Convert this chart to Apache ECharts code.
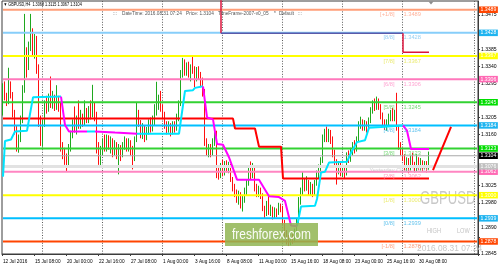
<!DOCTYPE html>
<html><head><meta charset="utf-8">
<script src="https://cdn.jsdelivr.net/npm/echarts@6/dist/echarts.min.js"></script>
<style>html,body{margin:0;padding:0;background:#fff;overflow:hidden}#c{width:500px;height:269px}</style>
</head><body><div id="c"></div>
<script>
// ---------------- DATA (prices in pips: 13104 = 1.3104) ----------------
const symbol = 'GBPUSD';
const timeframe = 'H4';
const firstBarUTC = [2016, 6, 12, 16]; // 12 Jul 2016 16:00
const futureBars = 24;
const opens = [13220,13285,13262,13245,13290,13265,13215,13178,13130,13150,13200,13280,13370,13340,13395,13420,13375,13410,13330,13190,13165,13190,13240,13225,13255,13240,13258,13232,13250,13235,13130,13110,13095,13085,13125,13160,13190,13175,13200,13185,13210,13195,13215,13200,13225,13215,13230,13210,13130,13100,13115,13140,13125,13150,13130,13145,13115,13135,13110,13125,13105,13130,13145,13125,13140,13120,13100,13145,13215,13190,13160,13175,13155,13170,13190,13175,13195,13220,13235,13245,13230,13210,13185,13170,13180,13165,13185,13175,13205,13240,13320,13345,13325,13340,13320,13335,13330,13310,13330,13315,13300,13270,13140,13115,13125,13110,13140,13160,13060,13050,13075,13060,13080,13070,13078,13040,13020,13005,12990,13000,12980,12990,13010,13030,13065,13050,13070,13020,13005,13015,13000,12965,12950,12965,12955,12962,12948,12958,12952,12972,12968,12930,12900,12885,12880,12890,12882,12905,12930,12985,13010,13035,13020,13035,13010,13025,13005,13030,13055,13070,13090,13150,13165,13150,13165,13150,13110,13085,13070,13080,13062,13070,13058,13105,13095,13115,13130,13120,13145,13185,13195,13180,13190,13178,13195,13225,13240,13230,13248,13235,13210,13190,13180,13192,13200,13212,13205,13215,13180,13130,13115,13100,13075,13090,13070,13095,13080,13070,13095,13072,13088,13075,13082,13068];
const highs = [13295,13300,13270,13336,13300,13272,13225,13185,13160,13210,13290,13478,13390,13405,13478,13440,13425,13420,13345,13210,13200,13250,13262,13268,13313,13275,13265,13290,13262,13245,13140,13125,13110,13135,13170,13200,13234,13210,13250,13225,13215,13250,13230,13235,13250,13291,13245,13220,13140,13130,13150,13160,13160,13158,13155,13150,13145,13140,13135,13132,13140,13155,13150,13150,13145,13130,13155,13244,13225,13198,13190,13185,13180,13200,13205,13210,13240,13299,13265,13275,13240,13220,13195,13195,13190,13195,13195,13215,13250,13330,13362,13358,13350,13352,13345,13365,13340,13338,13340,13325,13310,13280,13150,13135,13135,13150,13175,13170,13075,13085,13094,13090,13092,13088,13082,13048,13030,13015,13012,13008,13000,13020,13040,13075,13089,13085,13075,13030,13025,13020,13005,12972,12985,12998,12975,12970,12968,12965,12980,12978,12972,12935,12908,12895,12900,12898,12912,12940,12995,13020,13062,13045,13050,13040,13035,13030,13040,13065,13081,13100,13160,13175,13181,13175,13172,13155,13120,13095,13090,13088,13080,13078,13113,13118,13125,13140,13145,13155,13195,13207,13200,13198,13195,13205,13232,13250,13255,13260,13255,13240,13218,13200,13200,13215,13225,13230,13225,13270,13185,13140,13125,13108,13100,13098,13105,13112,13088,13108,13100,13098,13092,13090,13090,13115];
const lows = [13210,13250,13235,13240,13255,13205,13160,13115,13112,13140,13190,13270,13310,13330,13380,13365,13360,13320,13180,13130,13128,13180,13215,13220,13230,13228,13222,13225,13220,13115,13095,13080,13063,13075,13115,13150,13165,13160,13175,13175,13180,13185,13190,13190,13200,13205,13195,13110,13080,13075,13105,13115,13115,13120,13110,13100,13105,13095,13055,13090,13100,13120,13115,13115,13105,13068,13090,13140,13180,13150,13148,13140,13145,13160,13165,13168,13185,13210,13225,13220,13200,13175,13160,13165,13155,13160,13165,13170,13195,13235,13310,13315,13315,13310,13300,13320,13285,13300,13305,13285,13260,13130,13105,13100,13100,13105,13130,13045,13041,13045,13050,13052,13060,13058,13035,13010,12995,12980,12975,12965,12957,12980,13000,13025,13040,13045,13010,12995,12995,12990,12958,12940,12945,12948,12945,12936,12940,12942,12948,12955,12922,12890,12870,12866,12868,12872,12876,12898,12925,12975,13000,13010,13012,13000,12998,12995,13000,13025,13045,13060,13085,13140,13140,13140,13135,13100,13075,13028,13055,13050,13048,13045,13052,13085,13088,13105,13110,13115,13140,13175,13170,13170,13165,13172,13190,13215,13222,13225,13225,13200,13180,13172,13170,13185,13195,13195,13195,13170,13120,13105,13090,13065,13062,13058,13065,13072,13060,13062,13066,13065,13062,13068,13060,13067];
const closes = [13285,13262,13245,13290,13265,13215,13178,13130,13150,13200,13275,13370,13340,13395,13420,13375,13410,13330,13190,13165,13190,13240,13225,13255,13240,13258,13232,13250,13235,13130,13110,13095,13085,13125,13160,13190,13175,13200,13185,13210,13195,13215,13200,13225,13215,13230,13210,13130,13100,13115,13140,13125,13150,13130,13145,13115,13135,13110,13125,13105,13130,13145,13125,13140,13120,13100,13145,13215,13190,13160,13175,13155,13170,13190,13175,13195,13220,13235,13245,13230,13210,13185,13170,13180,13165,13185,13175,13205,13240,13320,13345,13325,13340,13320,13335,13330,13310,13330,13315,13300,13270,13140,13115,13125,13110,13140,13160,13060,13050,13075,13060,13080,13070,13078,13040,13020,13005,12990,13000,12980,12990,13010,13030,13065,13050,13070,13020,13005,13015,13000,12965,12950,12965,12955,12962,12948,12958,12952,12972,12968,12930,12900,12885,12880,12890,12882,12905,12930,12985,13010,13035,13020,13035,13010,13025,13005,13030,13055,13070,13090,13150,13165,13150,13165,13150,13110,13085,13070,13080,13062,13070,13058,13105,13095,13115,13130,13120,13145,13185,13195,13180,13190,13178,13195,13225,13240,13230,13248,13235,13210,13190,13180,13192,13200,13212,13205,13215,13180,13130,13115,13100,13075,13090,13070,13095,13080,13070,13095,13072,13088,13075,13082,13068,13104];

const xTickLabels = ['12 Jul 2016','15 Jul 08:00','20 Jul 00:00','22 Jul 16:00','27 Jul 08:00','1 Aug 00:00','3 Aug 16:00','8 Aug 08:00','11 Aug 00:00','15 Aug 16:00','18 Aug 08:00','23 Aug 00:00','25 Aug 16:00','30 Aug 08:00'];
const xTickEvery = 16;
const periodSeparators = [20,50,80,110,140,170,200,236];
const yTickValues = [1.2845,1.2890,1.2980,1.3025,1.3160,1.3205,1.3295,1.3340,1.3385,1.3475];

const levelNames  = ['[+1/8]','[8/8]','[7/8]','[6/8]','[5/8]','[4/8]','[3/8]','[2/8]','[1/8]','[0/8]','[-1/8]'];
const levelValues = [1.3489,1.3428,1.3367,1.3306,1.3245,1.3184,1.3123,1.3062,1.3000,1.2939,1.2878];
const currentPrice = 1.3104;
const yesterdayClose = 1.3076;
const dateTimeText = '2016.08.31 07:24';

// indicator lines: [barIndex, pips]
const redStep = [[0,13202],[115,13202],[116,13176],[126,13176],[128,13128],[139,13128],[140,13044],[213,13044]];
const cyanSegments = [
  [[0,13049],[1,13143],[4,13147],[6,13168],[12,13170],[15,13258],[29,13260]],
  [[42,13168],[46,13168]],
  [[67,13162],[88,13162],[91,13275],[95,13277],[96,13283],[100,13287]],
  [[147,12918],[149,12970],[156,12972],[157,12990],[158,12992],[159,13060],[161,13062],[163,13086],[172,13088],[174,13112],[177,13140],[181,13145],[183,13178],[189,13180],[200,13184]]
];
const magentaSegments = [
  [[29,13260],[31,13185],[33,13168],[42,13168]],
  [[46,13168],[56,13165],[67,13162]],
  [[100,13287],[102,13205],[105,13200],[107,13135],[110,13133],[113,13100],[117,13041],[128,13041],[133,12997],[138,12995],[141,12985],[144,12920],[147,12918]],
  [[200,13184],[202,13170],[204,13122],[213,13122]]
];
const projection = [[215,13066],[224,13180]];
const upperCrimsonA = [[109,13530],[109,13427]];
const upperSlate = [[109,13427],[200,13427]];
const upperCrimsonB = [[200,13427],[200,13377],[213,13377]];

// ---------------- STYLES / LAYOUT ----------------
const FONT = 'Liberation Sans, Arial, sans-serif';
const levelStyle = [
  {line:'#FF9E78', w:2, box:'#FF4500', text:'#FF9E80'},
  {line:'#87CEFA', w:2, box:'#1EB4F0', text:'#7CC4F0'},
  {line:'#FFFF00', w:2, box:'#FFFF00', text:'#E6E650'},
  {line:'#FF78BC', w:2, box:'#FF69B4', text:'#FF8CC6'},
  {line:'#32D232', w:2, box:'#00DD00', text:'#55D055'},
  {line:'#00BFFF', w:2, box:'#1EB4F0', text:'#3CB4E8'},
  {line:'#32D232', w:2, box:'#00DD00', text:'#55D055'},
  {line:'#FF86C2', w:2, box:'#FF69B4', text:'#FF80A8'},
  {line:'#FFFF00', w:2, box:'#FFFF00', text:'#E6E650'},
  {line:'#00BFFF', w:2, box:'#1EB4F0', text:'#3CB4E8'},
  {line:'#FF4500', w:2, box:'#FF4500', text:'#FF8A60'}
];
const nameIdx = 196, priceIdx = 200, yCloseIdx = 183, yClosePriceIdx = 204;

// ---------------- BUILD ----------------
const P = v => v / 10000;
const N = opens.length;
const pad = n => String(n).padStart(2, '0');
const categories = [];
for (let t = Date.UTC(...firstBarUTC); categories.length < N + futureBars; t += 4 * 3600e3) {
  const d = new Date(t), wd = d.getUTCDay();
  if (wd === 0 || wd === 6) continue;
  categories.push(d.getUTCFullYear() + '.' + pad(d.getUTCMonth() + 1) + '.' + pad(d.getUTCDate()) + ' ' + pad(d.getUTCHours()) + ':00');
}
const lastCat = categories.length - 1;
const showTick = i => i % xTickEvery === 0 && i / xTickEvery < xTickLabels.length;
const lineSeries = (pts, color, width, z) => ({
  type: 'line', data: pts.map(([i, v]) => [i, P(v)]), symbol: 'none', silent: true,
  lineStyle: { color, width }, z, clip: true, animation: false
});
const series = [];
series.push({
  type: 'candlestick', name: symbol, barWidth: 1, z: 2, silent: true,
  data: opens.map((o, i) => [P(o), P(closes[i]), P(lows[i]), P(highs[i])]),
  itemStyle: { color: '#1A9E1A', color0: '#FF0000', borderColor: '#1FA81F', borderColor0: '#FF1010', borderWidth: 1 }
});
// horizontal level lines as individual line series with a price box at the right end
const hLevel = (v, color, width, box, z) => ({
  type: 'line', silent: true, animation: false, symbol: 'none', z, clip: false,
  data: [[0, v], [lastCat, v]],
  lineStyle: { color, width, type: 'solid' },
  endLabel: {
    show: true, distance: 2, formatter: v.toFixed(4), color: '#fff', backgroundColor: box,
    fontSize: 5.2, fontFamily: FONT, lineHeight: 6, padding: [0.5, 1.5, 0, 1.5]
  }
});
levelValues.forEach((v, k) => series.push(hLevel(v, levelStyle[k].line, levelStyle[k].w, levelStyle[k].box, 3)));
series.push(hLevel(yesterdayClose, '#E2E2E2', 3, '#C0C0C0', 3));
series.push(hLevel(currentPrice, '#A8A8A8', 1, '#000', 3));

series.push(lineSeries(redStep, '#FF0000', 2, 4));
cyanSegments.forEach(s => series.push(lineSeries(s, '#00E4FF', 2, 4)));
magentaSegments.forEach(s => series.push(lineSeries(s, '#FF00FF', 2, 4)));
series.push(lineSeries(projection, '#FF0000', 2, 4));
series.push(lineSeries(upperCrimsonA, '#DC143C', 1.5, 4));
series.push(lineSeries(upperSlate, '#5A5AAA', 1.5, 4));
series.push(lineSeries(upperCrimsonB, '#DC143C', 1.5, 4));
const txtLabel = (idx, v, text, color, pos, dy) => ({
  value: [idx, v],
  label: { show: true, position: pos, distance: 0.5, offset: [0, dy], formatter: text, color, fontSize: 5.7, fontFamily: FONT }
});
series.push({
  type: 'scatter', symbolSize: 0, z: 5, silent: true, animation: false,
  data: levelValues.map((v, k) => txtLabel(nameIdx, v, levelNames[k], levelStyle[k].text, 'left', 5))
    .concat(levelValues.map((v, k) => txtLabel(priceIdx, v, v.toFixed(4), levelStyle[k].text, 'right', 5)))
    .concat([txtLabel(yCloseIdx, yesterdayClose, 'Yesterday Close', '#C4C4C4', 'right', 4),
             txtLabel(yClosePriceIdx, yesterdayClose, yesterdayClose.toFixed(4), '#C4C4C4', 'right', 4)])
});
const last = N - 1;
const headerText = '\u25BC ' + symbol + ',' + timeframe + '  ' + [opens[last], highs[last], lows[last], closes[last]].map(v => P(v).toFixed(4)).join(' ');
const t = (x, y, text, size, fill, sx, extra) => Object.assign({
  type: 'text', x, y, scaleX: sx, z: 1,
  style: { text, fontSize: size, fontFamily: FONT, fill, align: 'left', verticalAlign: 'middle' }
}, extra || {});
const option = {
  animation: false,
  backgroundColor: '#fff',
  textStyle: { fontFamily: FONT },
  grid: { left: 2, right: 22, top: 1, bottom: 15, show: true, borderColor: '#3C3C3C', borderWidth: 1, backgroundColor: '#fff' },
  xAxis: {
    type: 'category', data: categories, boundaryGap: true,
    axisLine: { show: true, lineStyle: { color: '#3C3C3C', width: 1 } },
    axisTick: { show: true, interval: i => showTick(i), length: 2, lineStyle: { color: '#3C3C3C' } },
    axisLabel: { show: true, interval: i => showTick(i), align: 'left', margin: 5, fontSize: 4.7, color: '#000',
      formatter: (v, i) => showTick(i) ? xTickLabels[i / xTickEvery] : '' },
    splitLine: { show: true, interval: i => periodSeparators.indexOf(i) >= 0, lineStyle: { color: '#5A5A5A', type: [1, 1.6], width: 1 } }
  },
  yAxis: {
    type: 'value', position: 'right', min: 1.2845, max: 1.3512,
    axisLine: { show: true, lineStyle: { color: '#3C3C3C' } },
    axisTick: { show: true, length: 2, customValues: yTickValues, lineStyle: { color: '#3C3C3C' } },
    axisLabel: { show: true, customValues: yTickValues, margin: 3, fontSize: 5.1, color: '#000',
      formatter: v => Math.abs(v - 1.289) < 1e-6 ? '{up|' + v.toFixed(4) + '}' : v.toFixed(4),
      rich: { up: { fontSize: 5.1, color: '#000', padding: [0, 0, 19, 0] } } },
    splitLine: { show: false }
  },
  series,
  graphic: [
    t(420, 199, symbol, 19, '#C8C8C8', 0.69, { z: 0 }),
    t(427, 231, 'HIGH', 6.5, '#C4C4C4', 0.86),
    t(457, 231, 'LOW', 6.5, '#C4C4C4', 0.86),
    t(417, 248.5, dateTimeText, 9.3, '#C8C8C8', 0.9),
    t(3.5, 5, headerText, 5, '#000', 0.76, { z: 20 }),
    t(113, 13.5, ':::', 5.5, '#555', 0.86, { z: 20 }),
    t(122, 13.5, 'DateTime: ' + dateTimeText, 5.5, '#555', 0.86, { z: 20 }),
    t(186, 13.5, 'Price: ' + currentPrice.toFixed(4), 5.5, '#555', 0.86, { z: 20 }),
    t(218, 13.5, 'TimeFrame-2007-v0_05', 5.5, '#555', 0.86, { z: 20 }),
    t(274, 13.5, '*', 5.5, '#555', 0.86, { z: 20 }),
    t(279, 13.5, 'Default', 5.5, '#555', 0.86, { z: 20 }),
    t(298, 13.5, ':::', 5.5, '#555', 0.86, { z: 20 }),
    { type: 'polygon', z: 20, shape: { points: [[428.5, 1.5], [433.5, 1.5], [431, 4.5]] }, style: { fill: '#8C8C8C' } },
    { type: 'rect', z: 30, shape: { x: 225, y: 223, width: 93, height: 23 }, style: { fill: 'rgba(146,182,84,0.86)' } },
    t(232, 234.5, 'freshforex.com', 15.5, 'rgba(255,255,255,0.95)', 0.77, { z: 31 })
  ]
};
const chart = echarts.init(document.getElementById('c'), null, { renderer: 'canvas', width: 500, height: 269 });
chart.setOption(option);
</script>
</body></html>
